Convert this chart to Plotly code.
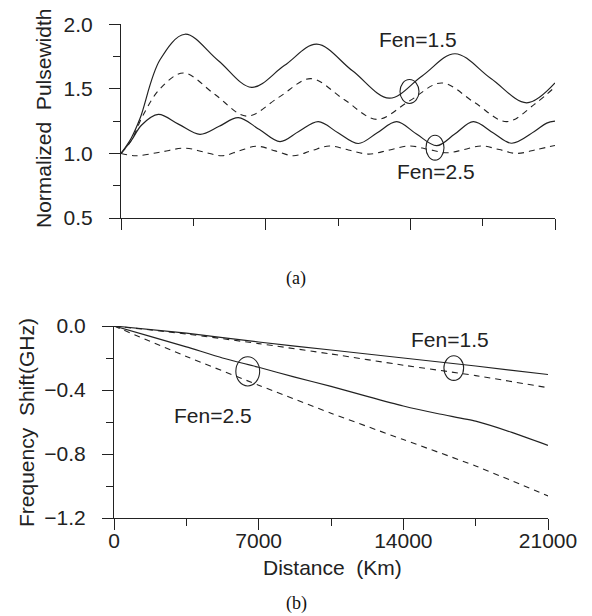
import plotly.graph_objects as go

# ---------------- data: panel (a) normalized pulsewidth ----------------
a_sol15_x = [0, 500, 919, 1887, 3097, 4700, 6323, 7900, 9468, 11200, 12982, 14570, 16161, 17900, 19630, 21000]
a_sol15_y = [1.0, 1.12, 1.27, 1.725, 1.923, 1.72, 1.512, 1.68, 1.846, 1.64, 1.428, 1.60, 1.772, 1.58, 1.392, 1.546]

a_das15_x = [0, 500, 1080, 1887, 3016, 4550, 6081, 7630, 9178, 10775, 12372, 13945, 15518, 17090, 18662, 20000, 21000]
a_das15_y = [1.0, 1.1, 1.3, 1.5, 1.623, 1.456, 1.289, 1.434, 1.579, 1.42, 1.264, 1.405, 1.546, 1.396, 1.246, 1.38, 1.515]

a_sol25_x = [0, 500, 1000, 1806, 2800, 3822, 4750, 5677, 6700, 7693, 8600, 9548, 10500, 11483, 12400, 13339, 14300, 15276, 16150, 17048, 18000, 18904, 20000, 20600, 21000]
a_sol25_y = [1.0, 1.1, 1.22, 1.302, 1.225, 1.148, 1.21, 1.277, 1.185, 1.092, 1.17, 1.246, 1.16, 1.077, 1.16, 1.246, 1.15, 1.06, 1.15, 1.246, 1.16, 1.079, 1.17, 1.235, 1.25]

a_das25_x = [0, 700, 1900, 3100, 4000, 4900, 5730, 6570, 7460, 8350, 9200, 10080, 11000, 11970, 13000, 13980, 14900, 15800, 16600, 17450, 18300, 19150, 20100, 21000]
a_das25_y = [1.0, 0.982, 1.01, 1.041, 1.011, 0.982, 1.02, 1.056, 1.02, 0.982, 1.02, 1.058, 1.027, 0.995, 1.027, 1.058, 1.03, 1.005, 1.03, 1.058, 1.03, 1.0, 1.03, 1.062]

# ---------------- data: panel (b) frequency shift ----------------
b_x = [0, 3500, 7000, 10500, 14000, 17500, 21000]
b_sol15_y = [0.0, -0.045, -0.1, -0.15, -0.2, -0.25, -0.303]
b_das15_y = [0.0, -0.05, -0.11, -0.175, -0.245, -0.31, -0.386]
b_sol25_x = [0, 1750, 3500, 5250, 7000, 8750, 10500, 12250, 14000, 15750, 17500, 19250, 21000]
b_sol25_y = [0.0, -0.065, -0.13, -0.2, -0.258, -0.32, -0.377, -0.44, -0.5, -0.55, -0.595, -0.665, -0.746]
b_das25_y = [0.0, -0.19, -0.37, -0.545, -0.71, -0.875, -1.062]

x_tickvals = [0, 7000, 14000, 21000]
x_ticktext = ["0", "7000", "14000", "21000"]
a_ytickvals = [0.5, 1.0, 1.5, 2.0]
a_yticktext = ["0.5", "1.0", "1.5", "2.0"]
b_ytickvals = [-1.2, -0.8, -0.4, 0.0]
b_yticktext = ["\u22121.2", "\u22120.8", "\u22120.4", "0.0"]

INK = "#222222"
FONT = "Liberation Sans"
OFF = 8                      # page body margin of the html page
W, H = 592 - OFF, 616 - OFF

def px(xp):
    return (xp - OFF) / W

def py(yp):
    return 1 - (yp - OFF) / H

fig = go.Figure()
solid = dict(color=INK, width=1.2)
dashed = dict(color=INK, width=1.1, dash="6px,5px")

fig.add_trace(go.Scatter(x=a_sol15_x, y=a_sol15_y, mode="lines", line=dict(shape="spline", smoothing=1.0, **solid), xaxis="x", yaxis="y"))
fig.add_trace(go.Scatter(x=a_das15_x, y=a_das15_y, mode="lines", line=dict(shape="spline", smoothing=1.0, **dashed), xaxis="x", yaxis="y"))
fig.add_trace(go.Scatter(x=a_sol25_x, y=a_sol25_y, mode="lines", line=dict(shape="spline", smoothing=1.0, **solid), xaxis="x", yaxis="y"))
fig.add_trace(go.Scatter(x=a_das25_x, y=a_das25_y, mode="lines", line=dict(shape="spline", smoothing=1.0, **dashed), xaxis="x", yaxis="y"))

fig.add_trace(go.Scatter(x=b_x, y=b_sol15_y, mode="lines", line=dict(shape="spline", smoothing=0.6, **solid), xaxis="x2", yaxis="y2"))
fig.add_trace(go.Scatter(x=b_x, y=b_das15_y, mode="lines", line=dict(shape="spline", smoothing=0.6, **dashed), xaxis="x2", yaxis="y2"))
fig.add_trace(go.Scatter(x=b_sol25_x, y=b_sol25_y, mode="lines", line=dict(shape="spline", smoothing=0.6, **solid), xaxis="x2", yaxis="y2"))
fig.add_trace(go.Scatter(x=b_x, y=b_das25_y, mode="lines", line=dict(shape="spline", smoothing=0.6, **dashed), xaxis="x2", yaxis="y2"))

tickfont = dict(family=FONT, size=21, color=INK)
common_x = dict(range=[0, 21000], showline=True, linecolor=INK, linewidth=1, showgrid=False, zeroline=False,
                ticks="outside", ticklen=11, tickcolor=INK, tickwidth=1, automargin=False,
                minor=dict(dtick=3500, tick0=0, ticks="outside", ticklen=7, tickcolor=INK, tickwidth=1),
                tickvals=x_tickvals, ticktext=x_ticktext, tickfont=tickfont)
common_y = dict(showline=True, linecolor=INK, linewidth=1, showgrid=False, zeroline=False,
                ticks="outside", ticklen=11, tickcolor=INK, tickwidth=1, tickfont=tickfont,
                ticklabelstandoff=12, automargin=False)

fig.update_layout(
    width=W, height=H,
    margin=dict(l=0, r=0, t=0, b=0, pad=0, autoexpand=False),
    paper_bgcolor="white", plot_bgcolor="white",
    showlegend=False,
    xaxis=dict(domain=[px(121), px(555)], anchor="y", showticklabels=False, **common_x),
    yaxis=dict(domain=[py(218), py(24.3)], anchor="x", range=[0.5, 2.0],
               tickvals=a_ytickvals, ticktext=a_yticktext,
               minor=dict(dtick=0.25, tick0=0.5, ticks="outside", ticklen=7, tickcolor=INK, tickwidth=1),
               **common_y),
    xaxis2=dict(domain=[px(114), px(548)], anchor="y2", showticklabels=True, ticklabelstandoff=-7, **common_x),
    yaxis2=dict(domain=[py(518), py(326)], anchor="x2", range=[-1.2, 0.0],
                tickvals=b_ytickvals, ticktext=b_yticktext,
                minor=dict(dtick=0.2, tick0=0, ticks="outside", ticklen=7, tickcolor=INK, tickwidth=1),
                **common_y),
)

lblfont = dict(family=FONT, size=21, color=INK)
ctr = dict(showarrow=False, xanchor="center", yanchor="middle")
ann = []
# curve labels
ann.append(dict(x=14370, y=1.88, xref="x", yref="y", text="Fen=1.5", font=lblfont, **ctr))
ann.append(dict(x=15240, y=0.86, xref="x", yref="y", text="Fen=2.5", font=lblfont, **ctr))
ann.append(dict(x=16240, y=-0.087, xref="x2", yref="y2", text="Fen=1.5", font=lblfont, **ctr))
ann.append(dict(x=4797, y=-0.561, xref="x2", yref="y2", text="Fen=2.5", font=lblfont, **ctr))
# axis titles
ann.append(dict(x=px(44), y=py(119), xref="paper", yref="paper", text="Normalized  Pulsewidth", textangle=-90,
                font=lblfont, **ctr))
ann.append(dict(x=px(26), y=py(423), xref="paper", yref="paper", text="Frequency  Shift(GHz)", textangle=-90,
                font=lblfont, **ctr))
ann.append(dict(x=px(333), y=py(567), xref="paper", yref="paper", text="Distance  (Km)",
                font=lblfont, **ctr))
# panel captions
capfont = dict(family="Liberation Serif", size=18, color="#111111")
ann.append(dict(x=px(296), y=py(278), xref="paper", yref="paper", text="(a)", font=capfont, **ctr))
ann.append(dict(x=px(296), y=py(603), xref="paper", yref="paper", text="(b)", font=capfont, **ctr))
fig.update_layout(annotations=ann)

# ellipses marking curve pairs
ell = dict(type="circle", line=dict(color=INK, width=1.1), fillcolor="rgba(0,0,0,0)")
fig.add_shape(x0=13500, x1=14419, y0=1.387, y1=1.572, xref="x", yref="y", **ell)
fig.add_shape(x0=14758, x1=15629, y0=0.948, y1=1.141, xref="x", yref="y", **ell)
fig.add_shape(x0=5895, x1=7049, y0=-0.375, y1=-0.192, xref="x2", yref="y2", **ell)
fig.add_shape(x0=15965, x1=16917, y0=-0.340, y1=-0.186, xref="x2", yref="y2", **ell)

fig.write_html("out.html")
